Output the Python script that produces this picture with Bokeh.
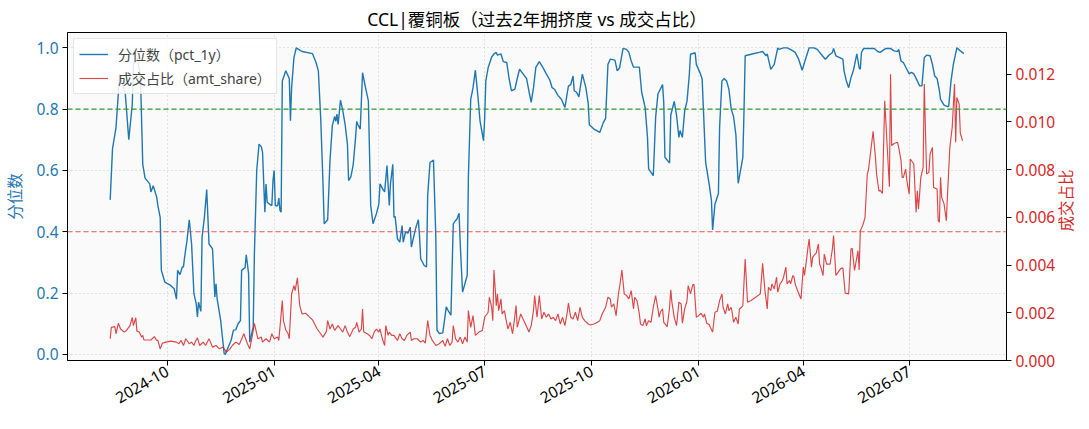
import math

import pandas as pd
from bokeh.embed import file_html
from bokeh.models import (ColumnDataSource, DatetimeTickFormatter, FixedTicker, Legend, LegendItem,
                          LinearAxis, NumeralTickFormatter, Range1d, Span)
from bokeh.plotting import figure
from bokeh.resources import INLINE

# Data (days counted from START).
START = "2024-08-13"

pct_day = [0, 2, 5, 7, 8, 9, 13, 16, 19, 20, 23, 26, 28, 30, 34, 35, 37, 40, 41, 43, 44, 47, 52, 55, 57, 58,
           60, 62, 63, 64, 66, 68, 70, 72, 74, 75, 76, 78, 79, 81, 83, 85, 88, 90, 91, 92, 95, 98, 99, 101,
           104, 106, 108, 110, 112, 113, 116, 117, 119, 120, 123, 124, 126, 128, 130, 131, 133, 134, 135, 137,
           139, 140, 141, 142, 144, 145, 146, 147, 148, 151, 154, 155, 156, 158, 160, 162, 165, 174, 177, 179,
           181, 183, 184, 187, 189, 191, 193, 194, 195, 196, 198, 200, 202, 204, 205, 207, 209, 211, 212, 213,
           215, 217, 219, 222, 224, 226, 229, 231, 232, 235, 236, 238, 240, 241, 243, 244, 245, 247, 249, 251,
           252, 254, 256, 258, 259, 261, 263, 265, 266, 267, 270, 272, 273, 275, 278, 280, 281, 283, 286, 289,
           291, 293, 295, 297, 298, 300, 301, 303, 305, 307, 308, 310, 312, 314, 316, 318, 321, 322, 323, 325,
           328, 330, 332, 333, 336, 338, 341, 343, 345, 348, 350, 352, 355, 358, 360, 362, 364, 366, 369, 372,
           375, 378, 380, 382, 385, 388, 391, 394, 396, 398, 399, 401, 403, 404, 406, 409, 411, 412, 416, 421,
           424, 426, 428, 430, 434, 436, 438, 441, 444, 446, 448, 450, 455, 457, 460, 462, 463, 467, 469, 471,
           475, 476, 477, 481, 482, 485, 487, 489, 490, 492, 494, 496, 498, 499, 503, 504, 507, 509, 512, 515,
           517, 518, 520, 523, 524, 526, 528, 530, 532, 534, 536, 538, 540, 541, 544, 545, 546, 552, 558, 561,
           564, 565, 566, 568, 571, 574, 575, 579, 582, 585, 589, 592, 595, 597, 601, 605, 608, 609, 612, 615,
           618, 621, 622, 624, 630, 631, 633, 635, 637, 639, 642, 644, 645, 646, 648, 657, 660, 662, 667, 671,
           674, 677, 678, 680, 682, 685, 687, 689, 691, 694, 696, 698, 700, 702, 705, 707, 709, 711, 713, 714,
           717, 720, 721, 723, 725, 728, 731, 734]
pct_val = [0.504, 0.67, 0.74, 0.85, 0.914, 0.90, 0.85, 0.70, 0.816, 0.946, 0.963, 0.914, 0.62, 0.575, 0.556,
           0.53, 0.55, 0.513, 0.485, 0.447, 0.274, 0.236, 0.225, 0.214, 0.18, 0.274, 0.26, 0.285, 0.285, 0.317,
           0.37, 0.439, 0.36, 0.198, 0.165, 0.122, 0.17, 0.14, 0.382, 0.447, 0.538, 0.36, 0.344, 0.187, 0.23,
           0.18, 0.111, 0.003, 0.0, 0.019, 0.046, 0.079, 0.08, 0.10, 0.11, 0.274, 0.283, 0.325, 0.264, 0.04,
           0.09, 0.328, 0.60, 0.686, 0.677, 0.66, 0.464, 0.556, 0.496, 0.49, 0.485, 0.567, 0.60, 0.485, 0.485,
           0.51, 0.47, 0.464, 0.892, 0.925, 0.90, 0.762, 0.87, 0.968, 1.0, 0.995, 0.988, 0.981, 0.952, 0.925,
           0.773, 0.556, 0.426, 0.439, 0.632, 0.746, 0.776, 0.76, 0.784, 0.75, 0.829, 0.795, 0.75, 0.686, 0.567,
           0.58, 0.62, 0.708, 0.76, 0.75, 0.735, 0.919, 0.88, 0.827, 0.486, 0.426, 0.46, 0.49, 0.556, 0.535,
           0.53, 0.616, 0.486, 0.556, 0.62, 0.447, 0.45, 0.377, 0.366, 0.42, 0.366, 0.40, 0.395, 0.415, 0.35,
           0.384, 0.416, 0.439, 0.384, 0.312, 0.29, 0.285, 0.518, 0.626, 0.634, 0.384, 0.079, 0.068, 0.07,
           0.155, 0.14, 0.128, 0.426, 0.437, 0.44, 0.46, 0.36, 0.203, 0.23, 0.258, 0.578, 0.832, 0.87, 0.927,
           0.85, 0.762, 0.697, 0.77, 0.892, 0.935, 0.97, 0.98, 0.985, 0.976, 0.98, 0.955, 0.952, 0.90, 0.86,
           0.865, 0.90, 0.93, 0.915, 0.90, 0.86, 0.822, 0.87, 0.936, 0.955, 0.936, 0.915, 0.895, 0.87, 0.865,
           0.845, 0.832, 0.805, 0.875, 0.88, 0.908, 0.86, 0.855, 0.84, 0.865, 0.914, 0.87, 0.82, 0.749, 0.735,
           0.724, 0.756, 0.77, 0.946, 0.963, 0.96, 0.925, 0.935, 0.998, 0.995, 0.985, 0.957, 0.937, 0.937,
           0.855, 0.805, 0.708, 0.605, 0.583, 0.773, 0.85, 0.88, 0.82, 0.643, 0.624, 0.78, 0.825, 0.78, 0.708,
           0.73, 0.708, 0.795, 0.826, 0.914, 0.979, 0.984, 0.946, 0.92, 0.898, 0.626, 0.556, 0.502, 0.406,
           0.49, 0.525, 0.74, 0.892, 0.90, 0.892, 0.865, 0.80, 0.776, 0.717, 0.558, 0.578, 0.643, 0.795, 0.974,
           0.98, 0.985, 0.988, 0.974, 0.98, 0.963, 0.93, 0.946, 1.0, 0.995, 1.0, 1.0, 0.995, 0.985, 0.963,
           0.927, 0.952, 1.0, 1.0, 0.995, 0.99, 0.976, 0.963, 0.976, 0.985, 0.998, 0.974, 0.963, 0.925, 0.892,
           0.87, 0.903, 0.925, 0.98, 0.935, 0.93, 0.985, 0.998, 0.998, 0.988, 0.985, 0.998, 0.998, 0.99, 0.988,
           0.995, 0.957, 0.952, 0.93, 0.915, 0.92, 0.915, 0.892, 0.876, 0.876, 0.968, 0.976, 0.974, 0.946,
           0.908, 0.90, 0.86, 0.832, 0.813, 0.808, 0.81, 0.892, 0.946, 1.0, 0.99, 0.981]

share_day = [0, 1, 4, 5, 7, 9, 12, 14, 17, 19, 20, 22, 23, 25, 27, 28, 29, 33, 35, 38, 40, 41, 43, 45, 48, 52,
             57, 59, 61, 63, 65, 68, 70, 72, 73, 75, 77, 80, 82, 85, 88, 91, 94, 97, 100, 103, 105, 108, 111,
             115, 118, 120, 122, 124, 127, 130, 131, 134, 137, 139, 141, 144, 145, 148, 149, 151, 153, 154,
             156, 158, 159, 161, 163, 165, 168, 171, 174, 178, 181, 183, 186, 187, 189, 191, 193, 196, 198,
             200, 202, 204, 206, 209, 211, 212, 214, 216, 217, 218, 221, 223, 225, 227, 229, 231, 232, 234,
             236, 237, 239, 240, 242, 244, 247, 249, 251, 253, 255, 258, 259, 261, 264, 267, 269, 271, 273,
             275, 277, 280, 283, 286, 288, 290, 292, 294, 295, 297, 299, 301, 303, 305, 307, 308, 310, 312,
             314, 317, 320, 322, 325, 326, 328, 329, 330, 332, 333, 334, 336, 337, 339, 340, 342, 344, 346,
             348, 349, 350, 353, 355, 357, 359, 360, 362, 364, 365, 367, 369, 371, 373, 375, 377, 379, 381,
             383, 385, 387, 389, 391, 393, 394, 396, 398, 400, 402, 404, 406, 408, 411, 413, 416, 419, 421,
             423, 426, 428, 430, 431, 433, 435, 437, 438, 440, 442, 444, 446, 448, 450, 451, 453, 455, 456,
             458, 460, 461, 463, 465, 467, 469, 471, 472, 473, 475, 476, 479, 481, 482, 483, 485, 487, 489,
             491, 492, 494, 496, 497, 499, 501, 502, 504, 506, 508, 510, 511, 513, 515, 516, 518, 520, 522,
             524, 526, 527, 529, 531, 532, 534, 535, 536, 538, 540, 541, 543, 544, 546, 548, 551, 555, 559,
             561, 563, 565, 566, 568, 569, 571, 573, 574, 576, 578, 579, 581, 582, 584, 585, 587, 588, 589,
             591, 594, 596, 597, 599, 600, 601, 603, 604, 606, 607, 609, 610, 611, 613, 614, 616, 617, 619,
             621, 622, 624, 626, 628, 630, 632, 635, 637, 638, 640, 642, 643, 644, 645, 647, 649, 651, 652,
             654, 656, 658, 659, 661, 662, 664, 666, 668, 670, 671, 672, 674, 677, 678, 680, 681, 682, 684,
             685, 687, 688, 691, 693, 694, 695, 696, 697, 699, 700, 702, 704, 705, 707, 708, 711, 712, 713,
             714, 715, 717, 719, 720, 722, 724, 726, 727, 728, 730, 731, 733]
share_val = [0.00091, 0.00139, 0.00142, 0.00112, 0.00156, 0.00132, 0.00119, 0.00126, 0.00146, 0.00181,
             0.00146, 0.00179, 0.00123, 0.00119, 0.00098, 0.00105, 0.00086, 0.00086, 0.00086, 0.00100,
             0.00084, 0.00084, 0.00049, 0.00073, 0.00077, 0.00081, 0.00077, 0.00070, 0.00084, 0.00063,
             0.00091, 0.00070, 0.00077, 0.00063, 0.00077, 0.00095, 0.00063, 0.00077, 0.00063, 0.00091,
             0.00056, 0.00063, 0.00049, 0.00056, 0.00035, 0.00049, 0.00063, 0.00077, 0.00067, 0.00112,
             0.00070, 0.00049, 0.00098, 0.00156, 0.00091, 0.00098, 0.00077, 0.00091, 0.00077, 0.00112,
             0.00091, 0.00098, 0.00084, 0.00251, 0.00167, 0.00128, 0.00112, 0.00091, 0.00279, 0.00314,
             0.00293, 0.00346, 0.00230, 0.00195, 0.00198, 0.00184, 0.00170, 0.00132, 0.00112, 0.00098,
             0.00123, 0.00167, 0.00132, 0.00153, 0.00126, 0.00146, 0.00132, 0.00119, 0.00146, 0.00119,
             0.00100, 0.00132, 0.00139, 0.00160, 0.00119, 0.00132, 0.00216, 0.00119, 0.00112, 0.00105,
             0.00091, 0.00119, 0.00132, 0.00119, 0.00132, 0.00091, 0.00063, 0.00146, 0.00105, 0.00119,
             0.00105, 0.00105, 0.00084, 0.00112, 0.00091, 0.00084, 0.00105, 0.00119, 0.00084, 0.00091,
             0.00091, 0.00077, 0.00084, 0.00073, 0.00167, 0.00105, 0.00084, 0.00063, 0.00070, 0.00084,
             0.00059, 0.00091, 0.00063, 0.00077, 0.00146, 0.00091, 0.00077, 0.00098, 0.00070, 0.00098,
             0.00077, 0.00209, 0.00139, 0.00188, 0.00105, 0.00119, 0.00126, 0.00181, 0.00202, 0.00265,
             0.00223, 0.00167, 0.00379, 0.00230, 0.00279, 0.00209, 0.00258, 0.00195, 0.00209, 0.00181,
             0.00132, 0.00160, 0.00112, 0.00188, 0.00230, 0.00139, 0.00195, 0.00174, 0.00153, 0.00132,
             0.00119, 0.00146, 0.00209, 0.00272, 0.00181, 0.00272, 0.00174, 0.00202, 0.00181, 0.00195,
             0.00174, 0.00181, 0.00167, 0.00195, 0.00153, 0.00181, 0.00146, 0.00202, 0.00240, 0.00181,
             0.00174, 0.00202, 0.00167, 0.00223, 0.00181, 0.00167, 0.00153, 0.00149, 0.00153, 0.00160,
             0.00167, 0.00195, 0.00223, 0.00265, 0.00258, 0.00223, 0.00237, 0.00188, 0.00279, 0.00307,
             0.00379, 0.00279, 0.00272, 0.00258, 0.00293, 0.00216, 0.00265, 0.00251, 0.00195, 0.00153,
             0.00146, 0.00174, 0.00146, 0.00167, 0.00160, 0.00223, 0.00272, 0.00216, 0.00181, 0.00202,
             0.00216, 0.00160, 0.00142, 0.00223, 0.00296, 0.00244, 0.00181, 0.00146, 0.00244, 0.00237,
             0.00156, 0.00216, 0.00251, 0.00314, 0.00279, 0.00318, 0.00318, 0.00181, 0.00188, 0.00198,
             0.00181, 0.00195, 0.00156, 0.00151, 0.00139, 0.00119, 0.00202, 0.00206, 0.00251, 0.00279,
             0.00223, 0.00195, 0.00237, 0.00209, 0.00223, 0.00195, 0.00160, 0.00181, 0.00153, 0.00216,
             0.00223, 0.00230, 0.00425, 0.00244, 0.00251, 0.00265, 0.00279, 0.00407, 0.00293, 0.00216,
             0.00307, 0.00293, 0.00321, 0.00300, 0.00349, 0.00286, 0.00321, 0.00335, 0.00349, 0.00391,
             0.00321, 0.00335, 0.00321, 0.00356, 0.00349, 0.00321, 0.00293, 0.00258, 0.00391, 0.00356,
             0.00432, 0.00474, 0.00509, 0.00391, 0.00432, 0.00446, 0.00449, 0.00488, 0.00404, 0.00391,
             0.00356, 0.00446, 0.00404, 0.00404, 0.00404, 0.00467, 0.00523, 0.00356, 0.00370, 0.00384,
             0.00388, 0.00282, 0.00279, 0.00467, 0.00470, 0.00377, 0.00432, 0.00460, 0.00379, 0.00544,
             0.00565, 0.00597, 0.00781, 0.00798, 0.00879, 0.00960, 0.00851, 0.00781, 0.00709, 0.00714,
             0.00700, 0.01088, 0.00907, 0.00728, 0.01199, 0.00900, 0.00909, 0.00914, 0.00893, 0.00837,
             0.00767, 0.00767, 0.00802, 0.00753, 0.00697, 0.00844, 0.00823, 0.00621, 0.00711, 0.00635,
             0.00697, 0.00767, 0.00809, 0.01158, 0.00781, 0.00788, 0.00865, 0.00893, 0.00725, 0.00718,
             0.00586, 0.00579, 0.00767, 0.00683, 0.00656, 0.00586, 0.00697, 0.00893, 0.00976, 0.01158,
             0.00914, 0.01102, 0.01074, 0.00951, 0.00920]

x_tick_labels = ["2024-10", "2025-01", "2025-04", "2025-07", "2025-10", "2026-01", "2026-04", "2026-07"]
pct_ticks = [0.0, 0.2, 0.4, 0.6, 0.8, 1.0]
share_ticks = [0.0, 0.002, 0.004, 0.006, 0.008, 0.010, 0.012]
PCT_HIGH = 0.8
PCT_LOW = 0.4

FONT = "'Noto Sans', 'Noto Sans CJK SC', sans-serif"
BLUE = "#1f77b4"
RED = "#d62728"
TICK_SIZE = "15.5px"

start = pd.Timestamp(START)
pct_src = ColumnDataSource(dict(date=start + pd.to_timedelta(pct_day, unit="D"), val=pct_val))
share_src = ColumnDataSource(dict(date=start + pd.to_timedelta(share_day, unit="D"), val=share_val))

last_day = max(pct_day[-1], share_day[-1])
pad = last_day * 0.05
x_start = (start - pd.Timedelta(days=pad)).timestamp() * 1000
x_end = (start + pd.Timedelta(days=last_day + pad)).timestamp() * 1000
share_top = 0.01374

p = figure(frame_width=939, frame_height=328, x_axis_type="datetime",
           x_range=Range1d(x_start, x_end), y_range=Range1d(-0.02, 1.05),
           output_backend="svg", toolbar_location=None,
           min_border_left=62, min_border_right=76, min_border_top=32, min_border_bottom=50)
p.extra_y_ranges = {"share": Range1d(0, share_top)}

p.title.text = "CCL|覆铜板（过去2年拥挤度 vs 成交占比）"
p.title.align = "center"
p.title.text_font = FONT
p.title.text_font_size = "17.5px"
p.title.text_font_style = "normal"
p.title.text_color = "black"
p.title.standoff = 4

p.background_fill_color = "#fafafa"
p.border_fill_color = "white"
p.outline_line_color = "black"
p.outline_line_width = 1

# Reference lines
p.add_layout(Span(location=PCT_HIGH, dimension="width", line_color="#2ca02c", line_alpha=1.0,
                  line_dash="5 3", line_width=1.1))
p.add_layout(Span(location=PCT_LOW, dimension="width", line_color="#f03a3a", line_alpha=0.8,
                  line_dash="5 3", line_width=1.1))

r_pct = p.line("date", "val", source=pct_src, line_color=BLUE, line_width=1.4)
r_share = p.line("date", "val", source=share_src, y_range_name="share", line_color=RED,
                 line_width=1.15, line_alpha=0.85)

# Axes
xaxis = p.xaxis[0]
xaxis.ticker = FixedTicker(ticks=[pd.Timestamp(t + "-01").timestamp() * 1000 for t in x_tick_labels])
xaxis.formatter = DatetimeTickFormatter(days="%Y-%m", months="%Y-%m", years="%Y-%m")
xaxis.major_label_orientation = math.pi / 6

yaxis = p.yaxis[0]
yaxis.ticker = FixedTicker(ticks=pct_ticks)
yaxis.formatter = NumeralTickFormatter(format="0.0")
yaxis.major_label_text_color = BLUE
yaxis.axis_label = "分位数"
yaxis.axis_label_text_color = BLUE
yaxis.axis_label_standoff = 8

right = LinearAxis(y_range_name="share", ticker=FixedTicker(ticks=share_ticks),
                   formatter=NumeralTickFormatter(format="0.000"))
right.major_label_text_color = RED
p.add_layout(right, "right")

for ax in (xaxis, yaxis, right):
    ax.major_label_text_font = FONT
    ax.major_label_text_font_size = TICK_SIZE
    ax.axis_label_text_font = FONT
    ax.axis_label_text_font_size = "15.5px"
    ax.axis_label_text_font_style = "normal"
    ax.axis_line_color = "black"
    ax.major_tick_line_color = "black"
    ax.major_tick_out = 5
    ax.major_tick_in = 0
    ax.minor_tick_out = 0
    ax.minor_tick_in = 0
    ax.major_label_standoff = 4
xaxis.major_label_text_color = "black"

# right-hand axis title, reading bottom to top like the left one: drawn as the single
# tick label of an outer, line-less axis, anchored so the text sits mid-height
title_anchor = 0.0054
right_title = LinearAxis(y_range_name="share", ticker=FixedTicker(ticks=[title_anchor]),
                         major_label_overrides={title_anchor: "成交占比"},
                         major_label_orientation=math.pi / 2)
right_title.axis_line_color = None
right_title.major_tick_line_color = None
right_title.major_tick_out = 0
right_title.major_tick_in = 0
right_title.minor_tick_out = 0
right_title.minor_tick_in = 0
right_title.major_label_standoff = 8
right_title.major_label_text_color = RED
right_title.major_label_text_font = FONT
right_title.major_label_text_font_size = "15.5px"
p.add_layout(right_title, "right")

for g in (p.xgrid[0], p.ygrid[0]):
    g.grid_line_color = "#c8c8c8"
    g.grid_line_dash = "1 3"
    g.grid_line_width = 1

legend = Legend(items=[LegendItem(label="分位数（pct_1y）", renderers=[r_pct]),
                       LegendItem(label="成交占比（amt_share）", renderers=[r_share])],
                location="top_left")
legend.label_text_font = FONT
legend.label_text_font_size = "14px"
legend.border_line_color = "#cccccc"
legend.background_fill_alpha = 0.85
legend.glyph_width = 29
legend.glyph_height = 18
legend.label_height = 18
legend.label_standoff = 10
legend.padding = 5
legend.spacing = 4
legend.margin = 6
p.add_layout(legend)

open("out.html", "w").write(file_html(p, INLINE))
